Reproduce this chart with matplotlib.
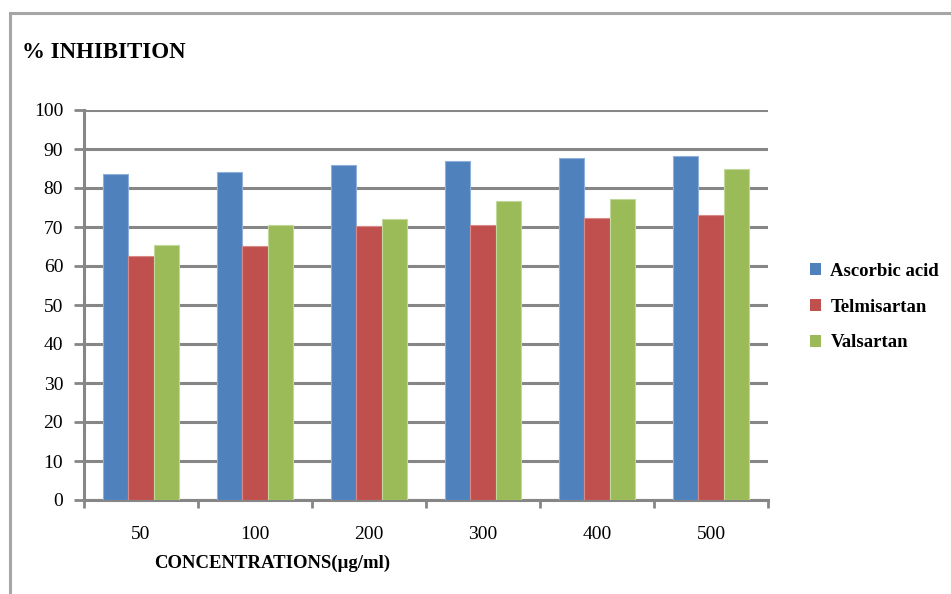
import matplotlib
matplotlib.use("Agg")
import matplotlib.pyplot as plt
import matplotlib.patches as mpatches
from matplotlib.lines import Line2D
import numpy as np

# Concentrations tested and the % inhibition measured for each compound
concentrations = ["50", "100", "200", "300", "400", "500"]
series_names = ["Ascorbic acid", "Telmisartan", "Valsartan"]
ascorbic_acid = [83.7, 84.2, 85.9, 86.8, 87.8, 88.3]
telmisartan = [62.5, 65.1, 70.3, 70.5, 72.2, 73.1]
valsartan = [65.5, 70.5, 72.0, 76.7, 77.1, 84.8]
y_ticks = [0, 10, 20, 30, 40, 50, 60, 70, 80, 90, 100]

colors = ["#4F81BD", "#C0504D", "#9BBB59"]
edges = ["#8FB0DA", "#D98A88", "#C2D89A"]
grid_color = "#868686"

plt.rcParams["font.family"] = ["Liberation Serif", "DejaVu Serif"]

fig = plt.figure(figsize=(9.51, 5.94), dpi=100)
ax = fig.add_axes([84 / 951, 1 - 500 / 594, (768 - 84) / 951, (500 - 110) / 594])

x = np.arange(len(concentrations))
width = 0.222
for i, (vals, c, e, name) in enumerate(zip([ascorbic_acid, telmisartan, valsartan],
                                          colors, edges, series_names)):
    ax.bar(x + (i - 1) * width, vals, width, color=c, edgecolor=e,
           linewidth=0.8, label=name, zorder=3)

ax.set_xlim(-0.5, len(concentrations) - 0.5)
ax.set_ylim(0, 100)
ax.set_yticks(y_ticks)
ax.set_yticklabels([str(t) for t in y_ticks], fontsize=14)
ax.yaxis.grid(True, color=grid_color, linewidth=2.2, zorder=0)
ax.set_axisbelow(True)

# category ticks sit between groups, labels sit under group centers
ax.set_xticks(np.arange(-0.5, len(concentrations), 1.0))
ax.set_xticklabels([])
ax.set_xticks(x, minor=True)
ax.set_xticklabels(concentrations, minor=True, fontsize=14)
ax.tick_params(axis="x", which="major", length=6, width=2, color=grid_color,
               direction="out")
ax.tick_params(axis="x", which="minor", length=0, pad=19)
ax.tick_params(axis="y", length=7, width=2, color=grid_color, direction="out", pad=8)

for side in ["top", "right"]:
    ax.spines[side].set_visible(False)
for side in ["left", "bottom"]:
    ax.spines[side].set_color(grid_color)
    ax.spines[side].set_linewidth(2.2)

ax.set_xlabel("CONCENTRATIONS(µg/ml)", fontsize=13.5, fontweight="bold",
              labelpad=8, x=0.275)

fig.text(22 / 951, 1 - 52 / 594, "% INHIBITION", fontsize=16.5, fontweight="bold",
         ha="left", va="center")

handles = [mpatches.Patch(facecolor=c, edgecolor="none") for c in colors]
leg = fig.legend(handles, series_names, loc="center left",
                 bbox_to_anchor=(793 / 951, 1 - 307 / 594), frameon=False,
                 prop={"weight": "bold", "size": 13.5}, handlelength=0.6,
                 handleheight=0.6, handletextpad=0.5, labelspacing=1.0)

# chart area border
fig.add_artist(Line2D([10 / 951, 10 / 951], [0, 1 - 13 / 594],
                      transform=fig.transFigure, color="#A6A6A6", linewidth=2.2))
fig.add_artist(Line2D([10 / 951, 1], [1 - 13 / 594, 1 - 13 / 594],
                      transform=fig.transFigure, color="#A6A6A6", linewidth=2.2))

fig.savefig("out.png", dpi=100)
